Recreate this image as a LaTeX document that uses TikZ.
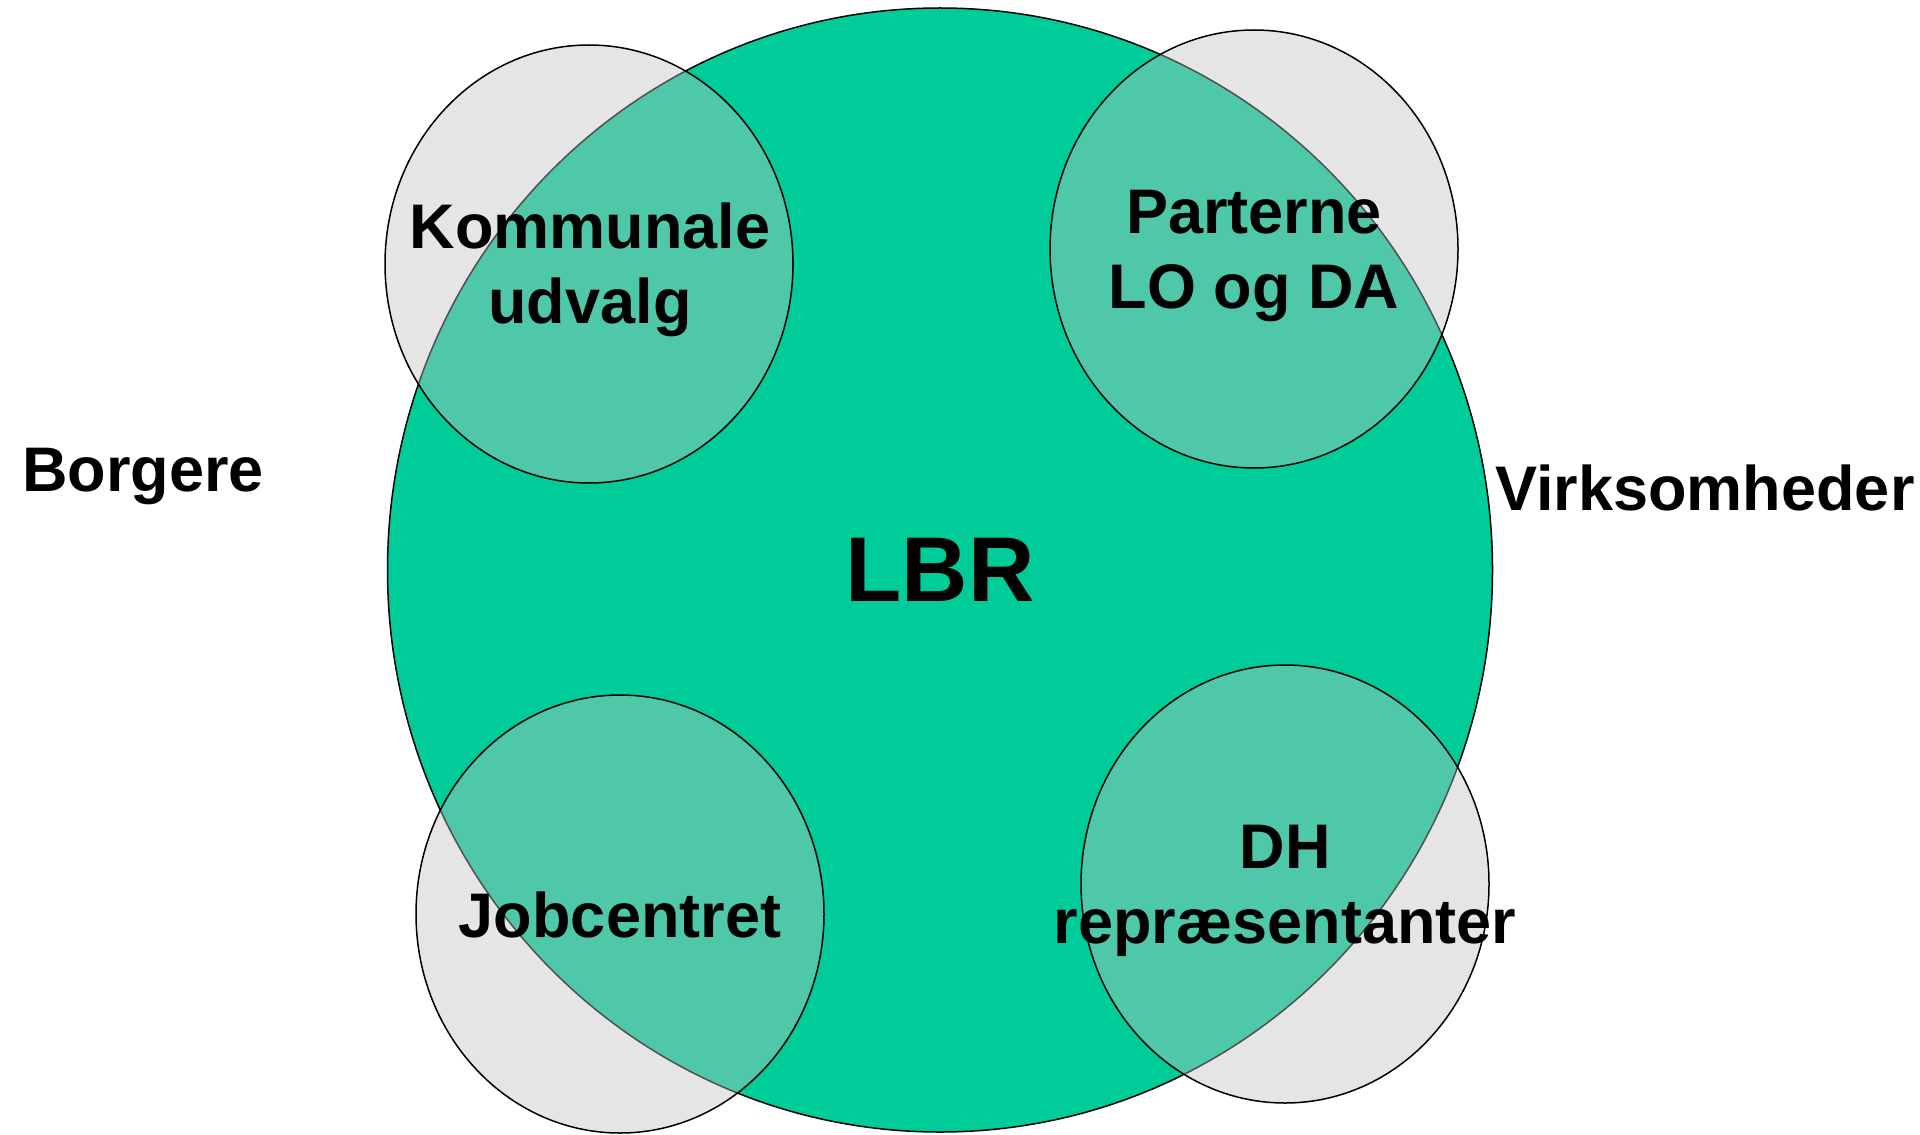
\documentclass[tikz,border=0pt]{standalone}
\usepackage{fontspec}
\setmainfont{Liberation Sans}
\usetikzlibrary{shapes.geometric}
\definecolor{lbrgreen}{HTML}{00CC99}
\definecolor{subgray}{HTML}{C0C0C0}
\begin{document}
\begin{tikzpicture}[
  x=0.5pt, y=-0.5pt,
  bignode/.style={ellipse, fill=lbrgreen, draw=black, line width=0.75pt, minimum width=552.5pt, minimum height=562pt, inner sep=0pt, font=\bfseries\fontsize{46}{50}\selectfont},
  subnode/.style={ellipse, fill=subgray, fill opacity=0.41, draw opacity=1, draw=black, line width=0.75pt, minimum width=204pt, minimum height=219pt, inner sep=0pt},
  lbl/.style={inner sep=0pt, align=center, font=\bfseries\fontsize{31.5}{37.5}\selectfont}
]
  \useasboundingbox (0,0) rectangle (1920,1134);

  % Stor cirkel i midten
  \node[bignode] (lbr) at (940,570) {LBR};

  % De fire ellipser
  \node[subnode] (kom) at (589,264) {};
  \node[subnode] (part) at (1254,249) {};
  \node[subnode] (job) at (620,914) {};
  \node[subnode] (dh) at (1285,884) {};

  % Tekst i ellipserne
  \node[lbl] (kom-txt) at (590,270) {Kommunale\\udvalg};
  \node[lbl] (part-txt) at (1254,256) {Parterne\\LO og DA};
  \node[lbl] (job-txt) at (620,915) {Jobcentret};
  \node[lbl] (dh-txt) at (1285,891) {DH\\repræsentanter};

  % Tekst udenfor
  \node[lbl] (borg) at (143,477) {Borgere};
  \node[lbl] (virk) at (1705,488) {Virksomheder};

\end{tikzpicture}
\end{document}
